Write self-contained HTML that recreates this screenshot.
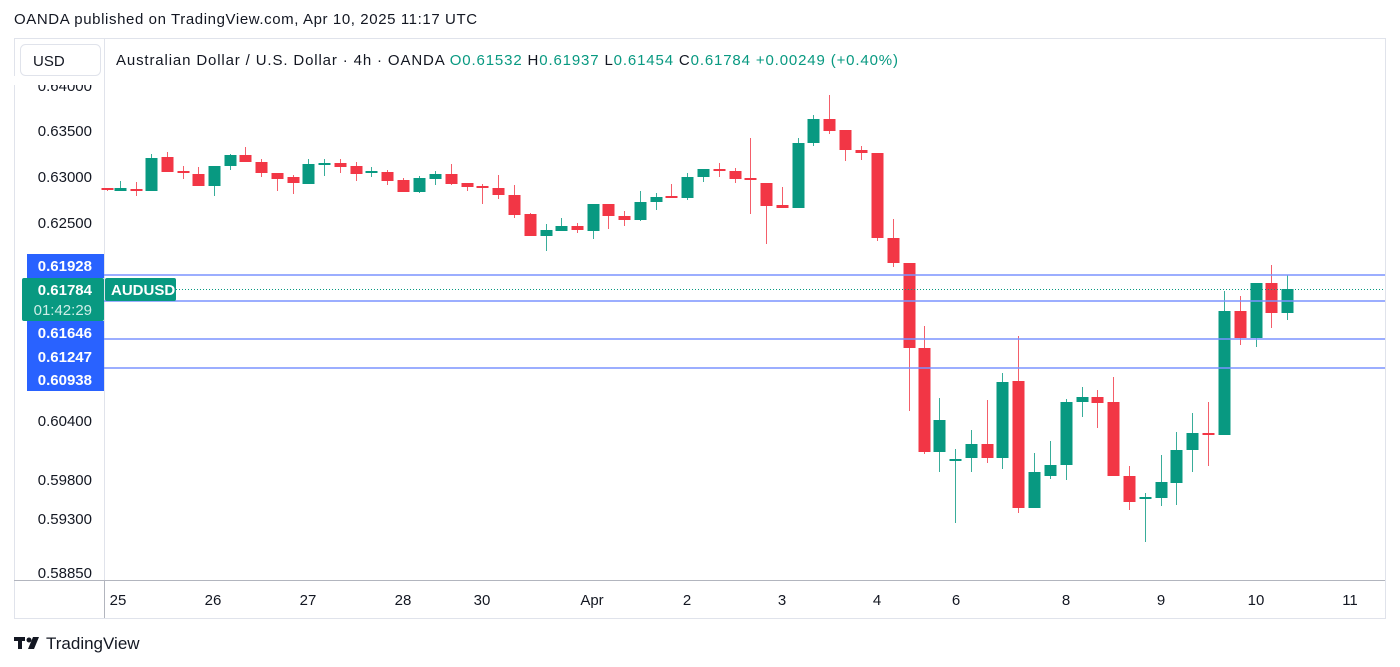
<!DOCTYPE html>
<html><head><meta charset="utf-8"><style>
body{margin:0;width:1400px;height:667px;background:#fff;font-family:"Liberation Sans",sans-serif;overflow:hidden;position:relative}
.t{position:absolute;white-space:nowrap}
</style></head><body>
<div class="t" style="left:14px;top:11px;font-size:15px;letter-spacing:0.6px;color:#131722">OANDA published on TradingView.com, Apr 10, 2025 11:17 UTC</div>
<svg width="1400" height="667" style="position:absolute;left:0;top:0" id="s" font-family="Liberation Sans, sans-serif">
<rect x="14.5" y="38.5" width="1371" height="580" fill="none" stroke="#e0e3eb"/>
<line x1="104.5" y1="38" x2="104.5" y2="618" stroke="#e0e3eb"/>
<line x1="14" y1="580.5" x2="1385" y2="580.5" stroke="#b2b5be"/>
<line x1="104.5" y1="580" x2="104.5" y2="618" stroke="#b2b5be"/>
<g id="c"></g>
<g stroke="#7b93ff" stroke-width="1.5">
<line x1="104" y1="275" x2="1385" y2="275"/><line x1="104" y1="301" x2="1385" y2="301"/>
<line x1="104" y1="339" x2="1385" y2="339"/><line x1="104" y1="368" x2="1385" y2="368"/>
</g>
<line x1="176" y1="289.5" x2="1385" y2="289.5" stroke="#089981" stroke-dasharray="1,2"/>
<rect x="20.5" y="44.5" width="80" height="31" rx="5" fill="#fff" stroke="#e0e3eb"/>
<text x="33" y="66" font-size="15" fill="#131722">USD</text>
<text x="116" y="65" font-size="15" fill="#131722" textLength="782" lengthAdjust="spacing">Australian Dollar / U.S. Dollar · 4h · OANDA <tspan fill="#089981">O</tspan><tspan fill="#089981">0.61532 </tspan><tspan fill="#131722">H</tspan><tspan fill="#089981">0.61937 </tspan><tspan fill="#131722">L</tspan><tspan fill="#089981">0.61454 </tspan><tspan fill="#131722">C</tspan><tspan fill="#089981">0.61784 +0.00249 (+0.40%)</tspan></text>
<g font-size="15" fill="#131722" text-anchor="end">
<text x="92" y="91">0.64000</text><text x="92" y="136">0.63500</text><text x="92" y="182">0.63000</text>
<text x="92" y="228">0.62500</text><text x="92" y="426">0.60400</text><text x="92" y="485">0.59800</text>
<text x="92" y="524">0.59300</text><text x="92" y="578">0.58850</text>
</g>
<rect x="0" y="76" width="104" height="9" fill="#fff"/>
<rect x="27" y="254" width="77" height="24" fill="#2962ff"/>
<rect x="27" y="321" width="77" height="24" fill="#2962ff"/>
<rect x="27" y="345" width="77" height="23" fill="#2962ff"/>
<rect x="27" y="368" width="77" height="23" fill="#2962ff"/>
<rect x="22" y="278" width="82" height="43" rx="2" fill="#089981"/>
<rect x="105" y="278" width="71" height="23" rx="2" fill="#089981"/>
<g font-size="15" fill="#fff" font-weight="bold" text-anchor="end">
<text x="92" y="271">0.61928</text><text x="92" y="295">0.61784</text>
<text x="92" y="338">0.61646</text><text x="92" y="362">0.61247</text><text x="92" y="385">0.60938</text>
</g>
<text x="92" y="315" font-size="15" fill="#cfeee8" text-anchor="end">01:42:29</text>
<text x="111" y="295" font-size="15" fill="#fff" font-weight="bold">AUDUSD</text>
<g font-size="15" fill="#131722" text-anchor="middle">
<text x="118" y="605">25</text><text x="213" y="605">26</text><text x="308" y="605">27</text><text x="403" y="605">28</text>
<text x="482" y="605">30</text><text x="592" y="605">Apr</text><text x="687" y="605">2</text><text x="782" y="605">3</text>
<text x="877" y="605">4</text><text x="956" y="605">6</text><text x="1066" y="605">8</text><text x="1161" y="605">9</text>
<text x="1256" y="605">10</text><text x="1350" y="605">11</text>
</g>
<g fill="#131722"><rect x="14" y="637" width="11" height="4"/><rect x="18" y="637" width="4" height="12"/><circle cx="29" cy="640" r="2.5"/><polygon points="33,637 39,637 34,649 28,649"/></g>
<text x="46" y="649" font-size="17" fill="#131722">TradingView</text>
</svg>
<script>
var d=[[107,188,190,188,191,0],[120,191,188,181,191,1],[136,189,191,182,196,0],[151,191,158,154,191,1],[167,157,172,152,172,0],[183,171,173,166,179,0],[198,174,186,167,186,0],[214,186,166,166,196,1],[230,166,155,154,170,1],[245,155,162,147,162,0],[261,162,173,159,177,0],[277,173,179,173,191,0],[293,177,183,175,194,0],[308,184,164,159,184,1],[324,164,163,159,176,1],[340,163,167,159,173,0],[356,166,174,162,181,0],[371,173,171,167,177,1],[387,172,181,170,185,0],[403,180,192,178,192,0],[419,192,178,176,193,1],[435,179,174,171,185,1],[451,174,184,164,185,0],[467,183,187,183,191,0],[482,186,188,184,204,0],[498,188,195,175,199,0],[514,195,215,185,218,0],[530,214,236,213,236,0],[546,236,230,224,251,1],[561,231,226,218,231,1],[577,226,230,223,233,0],[593,231,204,204,239,1],[608,204,216,204,229,0],[624,216,220,211,226,0],[640,220,202,191,221,1],[656,202,197,193,210,1],[671,196,198,184,198,0],[687,198,177,173,200,1],[703,177,169,169,182,1],[719,169,170,163,177,0],[735,171,179,168,183,0],[750,178,178,138,214,0],[766,183,206,183,244,0],[782,205,208,187,208,0],[798,208,143,138,208,1],[813,143,119,115,146,1],[829,119,131,95,134,0],[845,130,150,130,161,0],[861,150,153,146,160,0],[877,153,238,153,241,0],[893,238,263,219,267,0],[909,263,348,263,411,0],[924,348,452,326,454,0],[939,452,420,398,472,1],[955,460,459,449,523,1],[971,458,444,430,472,1],[987,444,458,400,463,0],[1002,458,382,373,469,1],[1018,381,508,336,513,0],[1034,508,472,453,508,1],[1050,476,465,441,479,1],[1066,465,402,399,480,1],[1082,402,397,387,417,1],[1097,397,403,390,428,0],[1113,402,476,377,476,0],[1129,476,502,466,510,0],[1145,499,497,493,542,1],[1161,498,482,455,506,1],[1176,483,450,432,505,1],[1192,450,433,413,472,1],[1208,433,435,402,466,0],[1224,435,311,291,435,1],[1240,311,338,296,345,0],[1256,338,283,283,347,1],[1271,283,313,265,328,0],[1287,313,289,275,320,1]];
var h='';d.forEach(function(c){var col=c[5]?'#089981':'#f23645';var t=Math.min(c[1],c[2]),b=Math.max(c[1],c[2]);if(b-t<2)b=t+2;
h+='<line x1="'+(c[0]+.5)+'" y1="'+c[3]+'" x2="'+(c[0]+.5)+'" y2="'+c[4]+'" stroke="'+col+'" stroke-width="1" opacity="0.8"/>';
h+='<rect x="'+(c[0]-5.5)+'" y="'+t+'" width="12" height="'+(b-t)+'" fill="'+col+'"/>';});
document.getElementById('c').innerHTML=h;
</script>
</body></html>
